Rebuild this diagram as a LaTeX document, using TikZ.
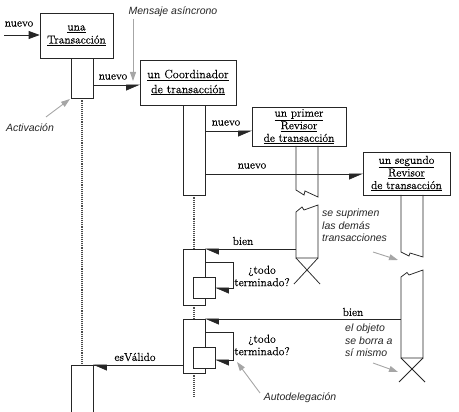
\documentclass[tikz,border=0pt]{standalone}
\usepackage{fontspec}
\newfontfamily\annotfont{Liberation Sans}
\newfontfamily\serifb{Latin Modern Roman}[FakeBold=0.3]
\usetikzlibrary{arrows.meta}
\tikzset{
  ln/.style={draw=black!85, line width=0.75pt},
  box/.style={ln, fill=white, inner sep=0pt, align=center, font=\serifb\fontsize{11.5}{12.6}\selectfont},
  actbar/.style={ln, fill=white, minimum width=22pt, inner sep=0pt},
  lifeline/.style={draw=black!70, line width=1.1pt, densely dotted},
  msgr/.style={ln, -{Triangle[length=13pt,width=11pt,harpoon,swap]}},
  msgl/.style={ln, -{Triangle[length=13pt,width=11pt,harpoon]}},
  msgfull/.style={ln, -{Triangle[length=11pt,width=8pt]}},
  lab/.style={font=\serifb\fontsize{11.5}{13}\selectfont, inner sep=0pt},
  note/.style={font=\annotfont\itshape\fontsize{10.5}{12.5}\selectfont, text=black!85, inner sep=0pt, align=left},
  pointer/.style={draw=black!35, line width=0.9pt, -{Triangle[length=9pt,width=6pt]}},
}
\begin{document}
\begin{tikzpicture}[x=1pt,y=-1pt]
\useasboundingbox (0,0) rectangle (459,412);

% ---- coordinates
\coordinate (start) at (4,35);
\coordinate (uTop) at (82,365);
\coordinate (u2L) at (71,365);
\coordinate (u2R) at (93,365);
\coordinate (cEnd) at (194,397);

% ---- lifelines
\node[actbar, minimum height=40pt] (u1) at (82,78) {};
\draw[lifeline] (u1.south) -- (uTop);

\node[actbar, minimum height=90pt] (c1) at (194,150) {};
\node[actbar, minimum height=56pt] (c2) at (194,277) {};
\node[actbar, minimum height=54pt] (c3) at (194,346) {};
\draw[lifeline] (c1.south) -- (c2.north);
\draw[lifeline] (c2.south) -- (c3.north);
\draw[lifeline] (c3.south) -- (cEnd);
% redraw bars above lifelines
\node[actbar, minimum height=40pt] at (82,78) {};
\node[actbar, minimum height=90pt] at (194,150) {};
\node[actbar, minimum height=56pt] at (194,277) {};
\node[actbar, minimum height=54pt] at (194,346) {};

% nested activations
\node[actbar, minimum height=21pt] (n1) at (204,287.5) {};
\node[actbar, minimum height=21pt] (n2) at (204,357.5) {};

% una transaccion second activation (runs off the bottom)
\draw[ln] (71,414) -- (u2L) -- (u2R) -- (93,414);

% ---- object boxes
\node[box, minimum width=73pt, minimum height=45pt, font=\serifb\fontsize{11.5}{13}\selectfont] (una) at (76.5,35.5) {\underline{una}\\\underline{Transacción}};
\node[box, minimum width=96pt, minimum height=45pt, font=\serifb\fontsize{12}{15}\selectfont] (coord) at (188,82.5) {\underline{un Coordinador}\\\underline{de transacción}};
\node[box, minimum width=94pt, minimum height=39pt] (rev1) at (299,126.5) {\underline{un primer}\\\underline{Revisor}\\\underline{de transacción}};
\node[box, minimum width=87pt, minimum height=43pt] (rev2) at (406.5,173.5) {\underline{un segundo}\\\underline{Revisor}\\\underline{de transacción}};

% ---- revisor activation bars with break marks and destruction
\draw[ln] (296,146) -- (296,190) -- (304,195) -- (305,191) -- (318,197) -- (318,146);
\draw[ln] (296,258) -- (296,212) -- (302,207) -- (304,210) -- (318,205) -- (318,258) -- cycle;
\draw[ln] (296,258) -- (320,284) (318,258) -- (294,284);

\draw[ln] (401,195) -- (401,252) -- (409,256) -- (410,253) -- (423,257) -- (423,195);
\draw[ln] (401,358) -- (401,277) -- (407,272.5) -- (409,275) -- (423,270) -- (423,358) -- cycle;
\draw[ln] (401,358) -- (425,382) (423,358) -- (399,382);

% ---- message endpoints
\coordinate (m1a) at (93,85);   \coordinate (m1b) at (140,85);
\coordinate (m2a) at (205,131); \coordinate (m2b) at (252,131);
\coordinate (m3a) at (205,174); \coordinate (m3b) at (363,174);
\coordinate (b1a) at (296,249); \coordinate (b1b) at (205,249);
\coordinate (b2a) at (401,319); \coordinate (b2b) at (205,319);
\coordinate (l1a) at (205,262); \coordinate (l1c) at (233,288); \coordinate (l1b) at (215,288);
\coordinate (l2a) at (205,332); \coordinate (l2c) at (233,360); \coordinate (l2b) at (215,360);
\coordinate (e1a) at (183,365);

% ---- messages
\draw[msgfull] (start) -- (una.west |- start);
\draw[msgr] (m1a) -- (m1b);
\draw[msgr] (m2a) -- (m2b);
\draw[msgr] (m3a) -- (m3b);
\draw[msgl] (b1a) -- (b1b);
\draw[msgl] (b2a) -- (b2b);
\draw[msgl] (l1a) -| (l1c) -- (l1b);
\draw[msgl] (l2a) -| (l2c) -- (l2b);
\draw[ln] (e1a) -- (u2L);
\draw[msgl] (e1a) -- (u2R);

% ---- labels
\node[lab] (t1) at (19,24) {nuevo};
\node[lab] (t2) at (113,77) {nuevo};
\node[lab] (t3) at (226,123) {nuevo};
\node[lab] (t4) at (252,166) {nuevo};
\node[lab] (t5) at (243,241) {bien};
\node[lab] (t6) at (353,312) {bien};
\node[lab] (t7) at (135,357) {esVálido};
\node[lab, align=center, font=\serifb\fontsize{11.5}{12.5}\selectfont] (t8) at (262,276) {¿todo\\terminado?};
\node[lab, align=center, font=\serifb\fontsize{11.5}{12.5}\selectfont] (t9) at (262,345) {¿todo\\terminado?};

% ---- annotations
\node[note] (a1) at (173,12) {Mensaje asíncrono};
\coordinate (a1s) at (133,19); \coordinate (a1e) at (133,81);
\draw[pointer] (a1s) -- (a1e);

\node[note] (a2) at (30,128) {Activación};
\coordinate (a2s) at (46,117); \coordinate (a2e) at (70,99);
\draw[pointer] (a2s) -- (a2e);

\node[note, anchor=north west] (a3) at (322,209) {se suprimen\\las demás\\transacciones};
\coordinate (a3s) at (373,252); \coordinate (a3e) at (398,260);
\draw[pointer] (a3s) -- (a3e);

\node[note, anchor=north west] (a4) at (345,324) {el objeto\\se borra a\\sí mismo};
\coordinate (a4s) at (373,363); \coordinate (a4e) at (398,372);
\draw[pointer] (a4s) -- (a4e);

\node[note] (a5) at (300,398) {Autodelegación};
\coordinate (a5s) at (260,393); \coordinate (a5e) at (237,362);
\draw[pointer] (a5s) -- (a5e);
\end{tikzpicture}
\end{document}
